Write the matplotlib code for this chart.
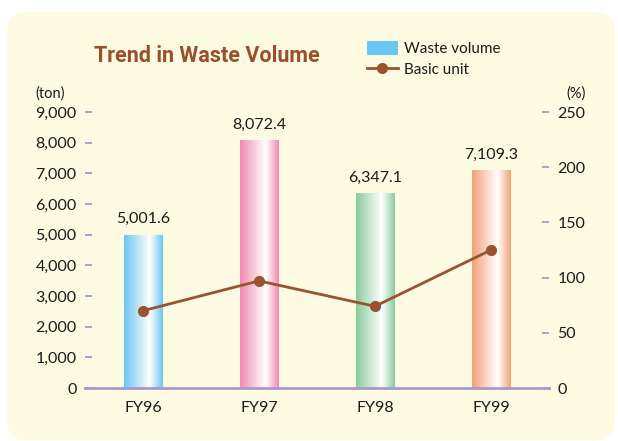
import numpy as np
import matplotlib
matplotlib.use("Agg")
import matplotlib.pyplot as plt
from matplotlib.patches import FancyBboxPatch, Patch
from matplotlib.lines import Line2D
from matplotlib.colors import to_rgb

# ---- data ----
categories = ["FY96", "FY97", "FY98", "FY99"]
waste_volume = [5001.6, 8072.4, 6347.1, 7109.3]
value_labels = ["5,001.6", "8,072.4", "6,347.1", "7,109.3"]
basic_unit = [70, 97, 74, 125]
left_ticks = [0, 1000, 2000, 3000, 4000, 5000, 6000, 7000, 8000, 9000]
left_tick_labels = ["0", "1,000", "2,000", "3,000", "4,000", "5,000", "6,000", "7,000", "8,000", "9,000"]
right_ticks = [0, 50, 100, 150, 200, 250]
bar_colors = ["#6CC6F2", "#F28AB2", "#8ACB9C", "#F4A07A"]

plt.rcParams['font.family'] = ['Lato', 'DejaVu Sans']

W, H = 618, 441
fig = plt.figure(figsize=(W / 100, H / 100), dpi=100)
fig.patch.set_facecolor("white")

panel = FancyBboxPatch((0.07, 0.005), 6.08, 4.285,
                       boxstyle="round,pad=0,rounding_size=0.2",
                       transform=fig.dpi_scale_trans, facecolor="#FDFBE2",
                       edgecolor="none", zorder=-10)
fig.patches.append(panel)

ax = fig.add_axes([85 / W, 1 - 388 / H, (549 - 85) / W, (388 - 112) / H])
ax.set_facecolor("none")
ax.set_zorder(1)
lav = "#A898CC"
txt = "#1a1a1a"
fs = 11.5

x = np.arange(len(categories))
bw = 0.336
bars = ax.bar(x, waste_volume, width=bw, color="none", edgecolor="none", zorder=2)

def grad(c):
    r, g, b = to_rgb(c)
    t = np.linspace(0, 1, 200)
    pos = [0.0, 0.66, 1.0]
    arr = np.zeros((1, 200, 3))
    for i, ch in enumerate((r, g, b)):
        arr[0, :, i] = np.interp(t, pos, [ch, 1.0, ch])
    return arr

for b, c in zip(bars, bar_colors):
    x0, y0 = b.get_x(), b.get_y()
    im = ax.imshow(grad(c), extent=(x0, x0 + b.get_width(), y0, y0 + b.get_height()),
                   aspect="auto", zorder=2, interpolation="bilinear")
    im.set_clip_path(b)

for xi, v, lab in zip(x, waste_volume, value_labels):
    ax.annotate(lab, (xi, v), xytext=(0, 6), textcoords="offset points",
                ha="center", va="bottom", fontsize=fs, color=txt)

ax.set_xlim(-0.5, 3.5)
ax.set_ylim(0, 9000)
ax.set_xticks(x)
ax.set_xticklabels(categories, fontsize=fs, color=txt)
ax.set_yticks(left_ticks)
ax.set_yticklabels(left_tick_labels, fontsize=fs, color=txt)
ax.tick_params(axis="x", length=0, pad=9)
ax.tick_params(axis="y", direction="in", length=5, width=1.3, color=lav, pad=6)
for s in ["top", "left", "right"]:
    ax.spines[s].set_visible(False)
ax.spines["bottom"].set_color(lav)
ax.spines["bottom"].set_linewidth(2.0)
ax.spines["bottom"].set_zorder(5)

ax2 = ax.twinx()
ax2.set_zorder(2)
ax2.set_facecolor("none")
ax2.set_ylim(0, 250)
ax2.set_yticks(right_ticks)
ax2.set_yticklabels([str(t) for t in right_ticks], fontsize=fs, color=txt)
ax2.tick_params(axis="y", direction="in", length=5, width=1.3, color=lav, pad=6)
for s in ["top", "left", "right", "bottom"]:
    ax2.spines[s].set_visible(False)
line_color = "#9A5230"
ax2.plot(x, basic_unit, color=line_color, linewidth=2.0, marker="o", markersize=7,
         markerfacecolor=line_color, markeredgecolor=line_color, zorder=5)

fig.text(50 / W, 1 - 94 / H, "(ton)", ha="center", va="center", fontsize=10.5, color=txt)
fig.text(576 / W, 1 - 94 / H, "(%)", ha="center", va="center", fontsize=10.5, color=txt)

fig.text(207 / W, 1 - 56 / H, "Trend in Waste Volume", ha="center", va="center",
         fontsize=15.5, fontweight="bold", color="#9C4E2A",
         family=["Roboto", "DejaVu Sans"])

handles = [Patch(facecolor="#6CC6F2", edgecolor="none"),
           Line2D([], [], color=line_color, linewidth=2.0, marker="o", markersize=7)]
fig.legend(handles, ["Waste volume", "Basic unit"], loc="upper left",
           bbox_to_anchor=(367 / W, 1 - 41 / H), frameon=False, fontsize=11,
           handlelength=2.0, handleheight=1.0, handletextpad=0.4, labelspacing=0.4,
           borderpad=0, borderaxespad=0, labelcolor=txt)

fig.savefig("out.png", dpi=100)
